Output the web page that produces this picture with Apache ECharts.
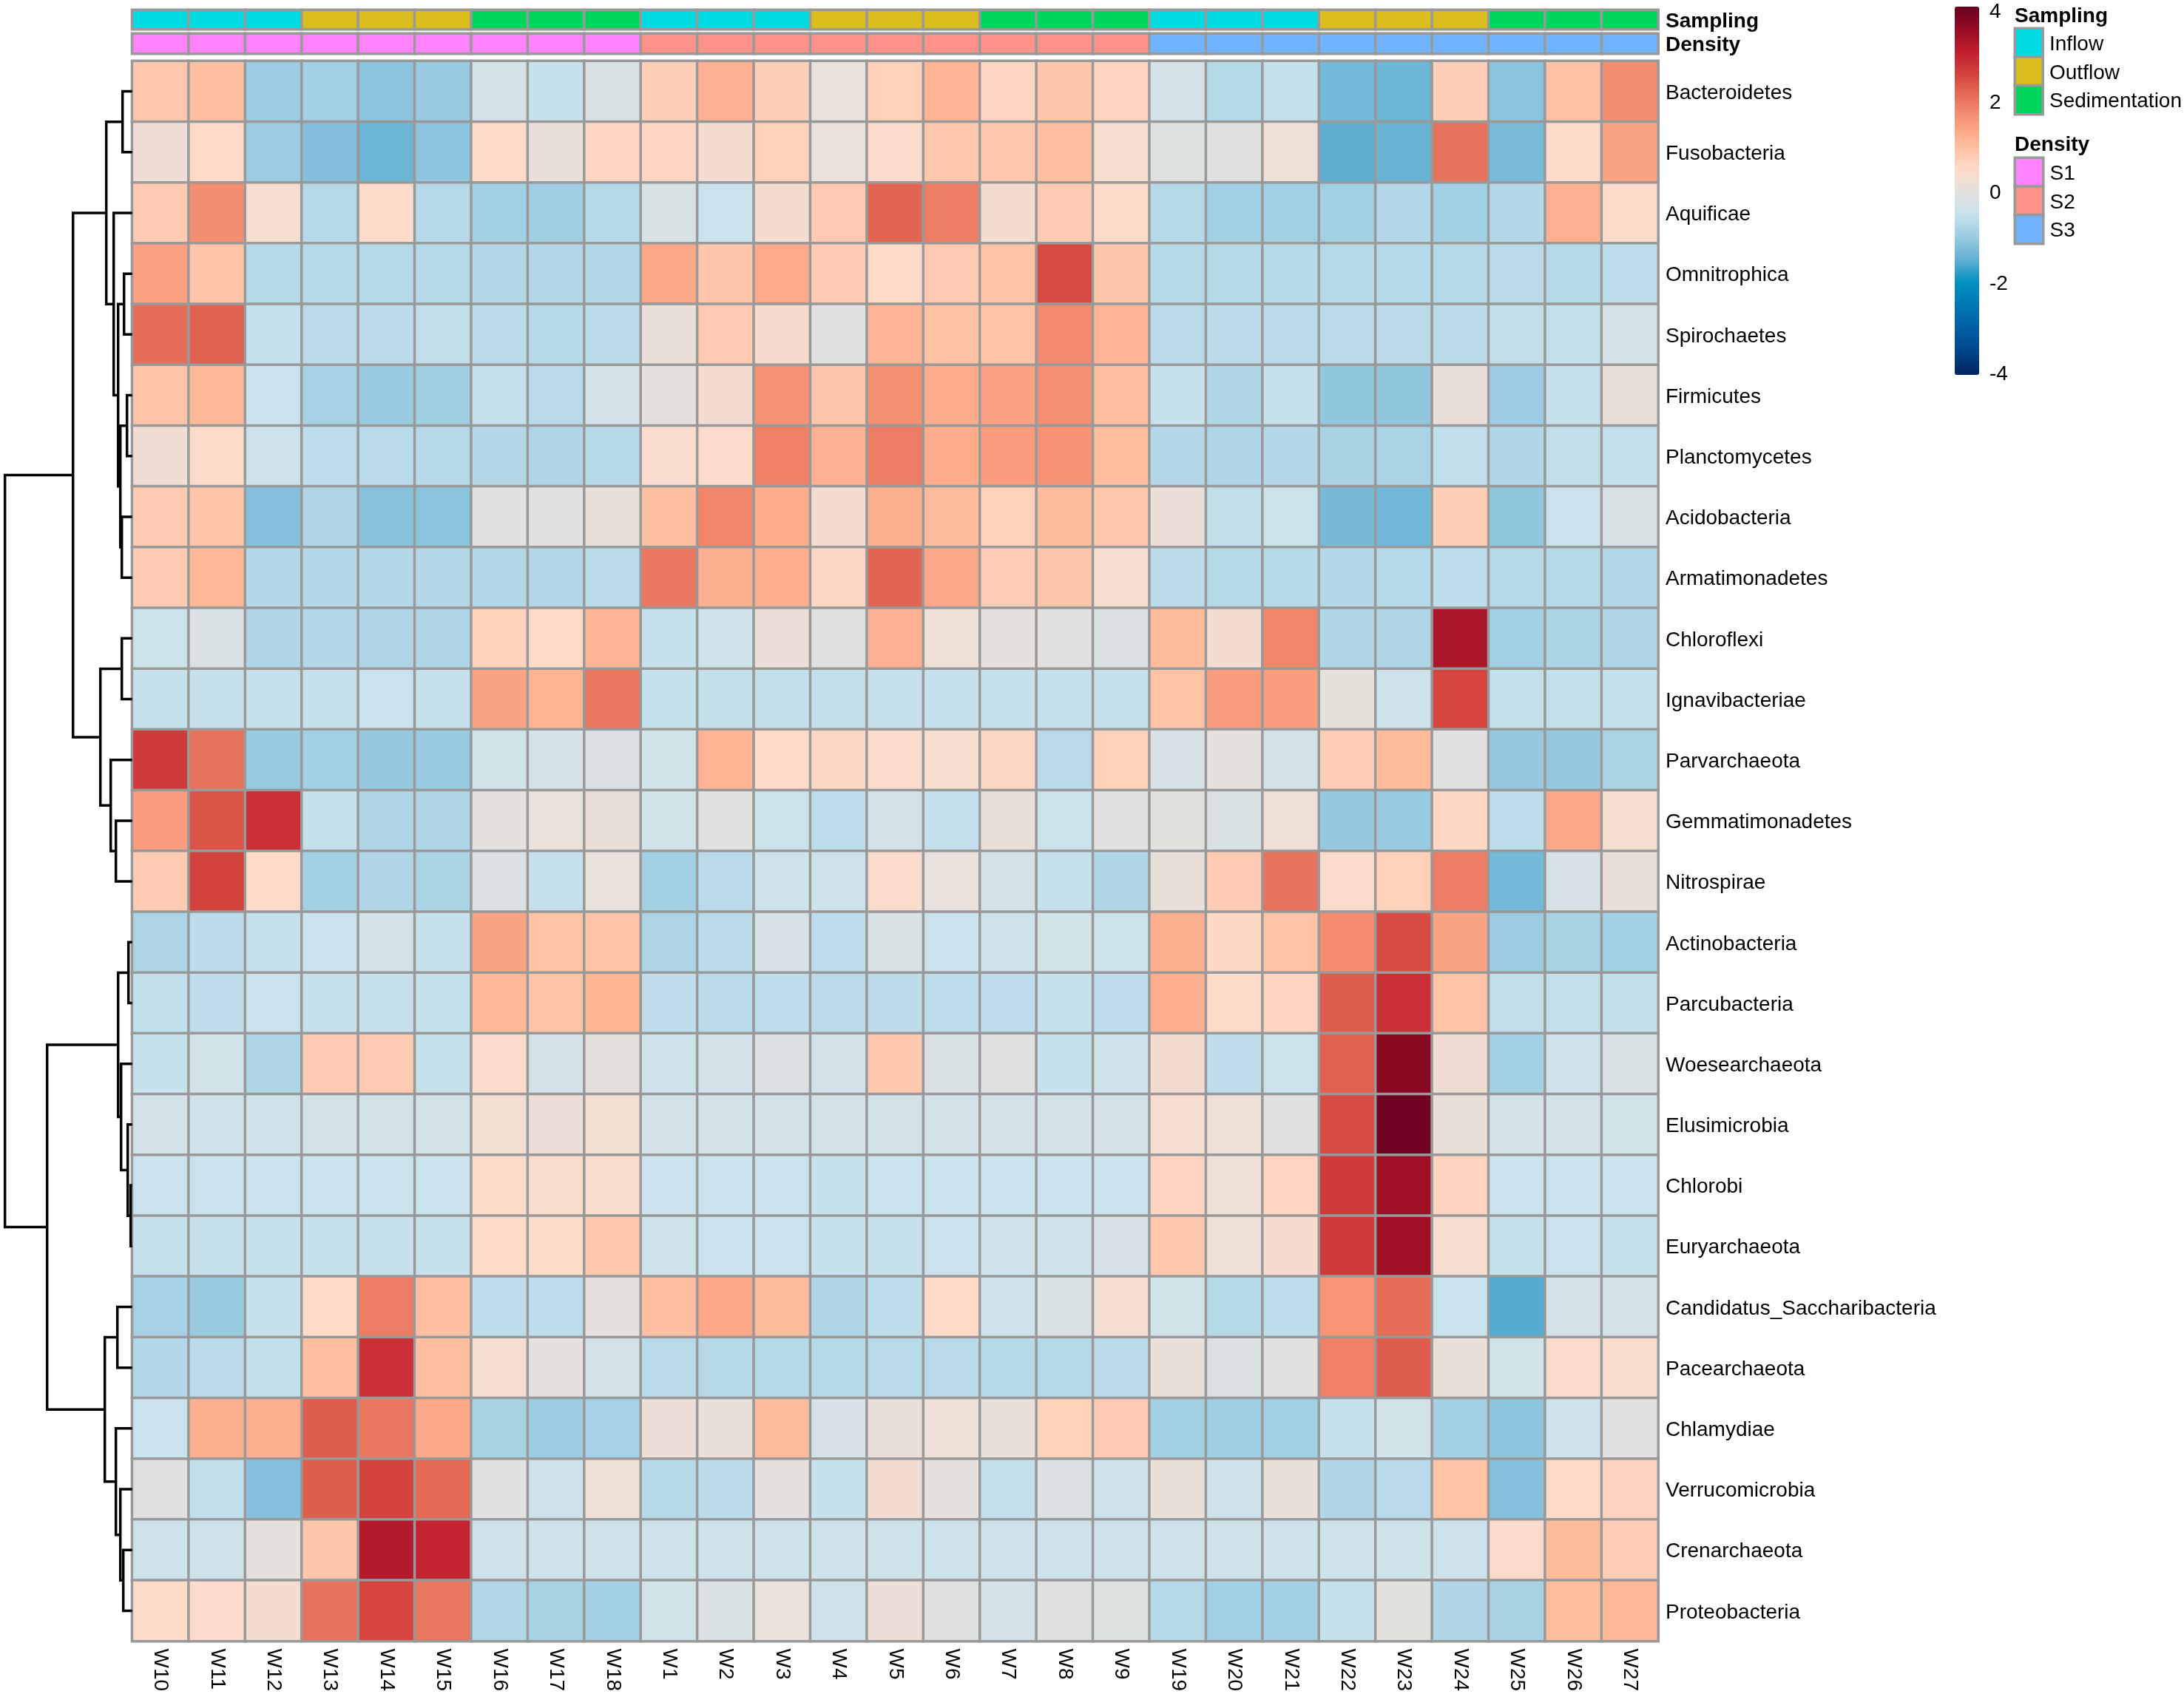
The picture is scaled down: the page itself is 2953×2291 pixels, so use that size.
<!DOCTYPE html>
<html>
<head>
<meta charset="utf-8">
<title>Phyla heatmap</title>
<script src="https://cdn.jsdelivr.net/npm/echarts@6/dist/echarts.min.js"></script>
<style>
	html, body { margin: 0; padding: 0; background: #fff; }
	#main { width: 2953px; height: 2291px; }
</style>
</head>
<body>
<div id="main"></div>
<script type="text/javascript">
var columns = ['W10','W11','W12','W13','W14','W15','W16','W17','W18','W1','W2','W3','W4','W5','W6','W7','W8','W9','W19','W20','W21','W22','W23','W24','W25','W26','W27'];
var phyla = ['Bacteroidetes','Fusobacteria','Aquificae','Omnitrophica','Spirochaetes','Firmicutes','Planctomycetes','Acidobacteria','Armatimonadetes','Chloroflexi','Ignavibacteriae','Parvarchaeota','Gemmatimonadetes','Nitrospirae','Actinobacteria','Parcubacteria','Woesearchaeota','Elusimicrobia','Chlorobi','Euryarchaeota','Candidatus_Saccharibacteria','Pacearchaeota','Chlamydiae','Verrucomicrobia','Crenarchaeota','Proteobacteria'];

// one line per phylum, same order as columns
var abundance = [
	[.85,1,-1,-.93,-1.15,-1.03,-.33,-.5,-.2,.72,1.2,.72,.05,.68,1.15,.58,.87,.62,-.3,-.7,-.55,-1.35,-1.42,.72,-1.15,.95,1.7],
	[.2,.52,-1,-1.23,-1.42,-1.12,.5,.1,.6,.6,.27,.68,.05,.45,.82,.85,1,.32,-.13,-.1,.17,-1.52,-1.45,2.05,-1.3,.47,1.4],
	[.78,1.7,.3,-.7,.47,-.7,-.93,-.96,-.7,-.25,-.45,.28,.8,2.2,1.9,.28,.78,.47,-.7,-.93,-.93,-.93,-.72,-.93,-.72,1.2,.47],
	[1.45,.9,-.7,-.7,-.7,-.7,-.72,-.72,-.72,1.35,.87,1.3,.77,.5,.8,.92,2.5,.87,-.7,-.7,-.7,-.7,-.7,-.7,-.65,-.7,-.62],
	[2.1,2.25,-.55,-.67,-.63,-.58,-.67,-.7,-.67,.1,.8,.35,-.08,1.15,.95,.9,1.75,1.15,-.67,-.65,-.67,-.67,-.65,-.65,-.58,-.55,-.28],
	[.9,1.12,-.45,-.88,-1.02,-.94,-.55,-.68,-.33,-.02,.27,1.65,.87,1.68,1.28,1.42,1.68,1,-.5,-.78,-.53,-1.08,-1.08,.1,-1,-.52,.08],
	[.22,.47,-.42,-.62,-.68,-.7,-.73,-.78,-.7,.4,.43,1.88,1.2,1.9,1.28,1.5,1.62,1.02,-.72,-.78,-.72,-.85,-.84,-.58,-.76,-.58,-.55],
	[.77,.9,-1.22,-.78,-1.18,-1.15,-.08,-.08,.08,.97,1.8,1.28,.28,1.22,1.05,.68,1.05,.85,.13,-.58,-.44,-1.32,-1.38,.73,-1.1,-.47,-.25],
	[.77,1.1,-.73,-.72,-.73,-.74,-.74,-.74,-.65,1.97,1.22,1.25,.57,2.2,1.35,.75,.87,.33,-.63,-.7,-.7,-.72,-.7,-.62,-.7,-.7,-.74],
	[-.44,-.2,-.76,-.74,-.76,-.78,.67,.53,1.15,-.52,-.4,.13,-.1,1.2,.17,.02,-.05,-.17,1.05,.28,1.8,-.76,-.77,3.35,-.93,-.82,-.76],
	[-.52,-.53,-.54,-.52,-.49,-.52,1.4,1.18,2,-.53,-.57,-.56,-.57,-.53,-.52,-.53,-.54,-.54,.92,1.5,1.5,.03,-.42,2.55,-.55,-.55,-.55],
	[2.7,2.05,-1.03,-.93,-1.05,-1.03,-.36,-.28,-.18,-.36,1.18,.5,.57,.45,.32,.57,-.67,.68,-.23,0,-.32,.75,1.05,-.05,-1.05,-1.05,-.84],
	[1.5,2.4,2.85,-.55,-.78,-.78,-.02,.05,.12,-.36,-.08,-.44,-.62,-.3,-.55,.08,-.44,-.08,-.03,-.2,.17,-1.05,-1.03,.55,-.62,1.35,.33],
	[.77,2.6,.5,-.9,-.76,-.82,-.18,-.52,.05,-.9,-.68,-.4,-.42,.43,.05,-.3,-.52,-.78,.08,.78,2.05,.42,.68,1.9,-1.35,-.27,.1],
	[-.8,-.63,-.53,-.47,-.33,-.5,1.4,.92,.9,-.8,-.68,-.27,-.62,-.2,-.45,-.43,-.35,-.44,1.22,.55,.9,1.72,2.5,1.4,-1,-.85,-.93],
	[-.58,-.6,-.47,-.52,-.53,-.53,1.12,.9,1.18,-.6,-.67,-.62,-.65,-.63,-.62,-.6,-.53,-.6,1.25,.47,.62,2.3,2.85,.92,-.58,-.55,-.56],
	[-.5,-.35,-.8,.78,.8,-.53,.42,-.33,0,-.4,-.33,-.17,-.33,.82,-.2,-.07,-.5,-.4,.27,-.6,-.44,2.25,3.72,.22,-.9,-.42,-.2],
	[-.33,-.37,-.37,-.34,-.33,-.34,.25,.15,.25,-.34,-.34,-.34,-.34,-.34,-.34,-.34,-.34,-.34,.33,.17,-.1,2.5,4,.1,-.34,-.34,-.36],
	[-.45,-.45,-.47,-.48,-.45,-.47,.48,.4,.38,-.45,-.46,-.47,-.5,-.48,-.47,-.48,-.48,-.47,.62,.17,.6,2.7,3.5,.65,-.45,-.45,-.48],
	[-.52,-.53,-.52,-.53,-.54,-.52,.5,.46,.85,-.4,-.45,-.48,-.53,-.52,-.45,-.4,-.4,-.27,.85,.17,.35,2.72,3.5,.33,-.52,-.45,-.52],
	[-.88,-1.03,-.53,.5,1.9,.97,-.62,-.62,-.02,.97,1.33,1.05,-.78,-.62,.5,-.4,-.2,.3,-.35,-.7,-.62,1.6,2.1,-.47,-1.58,-.32,-.33],
	[-.73,-.65,-.56,.97,2.85,.97,.32,-.02,-.32,-.67,-.7,-.7,-.7,-.68,-.68,-.7,-.7,-.63,.1,-.18,-.07,1.88,2.3,.1,-.36,.45,.38],
	[-.48,1.22,1.22,2.3,2,1.33,-.87,-1,-.88,.15,.12,1.03,-.23,.12,.17,.12,.67,.8,-.9,-.95,-.93,-.52,-.36,-.9,-1.12,-.42,-.05],
	[-.1,-.58,-1.2,2.27,2.6,2.15,-.07,-.37,.17,-.7,-.66,-.02,-.5,.27,.02,-.54,-.17,-.42,.12,-.42,.1,-.76,-.68,.93,-1.2,.52,.65],
	[-.42,-.4,.02,.87,3.22,3.02,-.4,-.4,-.4,-.4,-.4,-.42,-.4,-.4,-.42,-.42,-.42,-.42,-.4,-.38,-.4,-.4,-.4,-.42,.43,1.05,.75],
	[.47,.42,.27,2.05,2.55,1.98,-.75,-.87,-.9,-.36,-.2,.05,-.42,.15,-.1,-.33,-.1,-.13,-.7,-.93,-.9,-.52,-.03,-.76,-.87,1.02,1.12]
];

var samplingLevels = ['Inflow','Outflow','Sedimentation'];
var samplingColors = ['#00dbe2','#dbbd1e','#00d55e'];
var samplingOfColumn = [0,0,0,1,1,1,2,2,2,0,0,0,1,1,1,2,2,2,0,0,0,1,1,1,2,2,2];
var densityLevels = ['S1','S2','S3'];
var densityColors = ['#ff84fb','#fd9288','#72b3ff'];
var densityOfColumn = [0,0,0,0,0,0,0,0,0,1,1,1,1,1,1,1,1,1,2,2,2,2,2,2,2,2,2];

// row tree, like hclust: negative = phylum number, positive = earlier merge number
var rowMerges = [[-19,-20],[-18,1],[-15,-16],[-6,-7],[-17,2],[3,5],[-25,-26],[-24,7],[-8,-9],[4,9],[-4,-5],[11,10],[-3,12],[-1,-2],[14,13],[-10,-11],[-13,-14],[-12,17],[16,18],[15,19],[-21,-22],[-23,8],[21,22],[6,23],[20,24]];
var rowHeights = [2,6,5,7,15,19,12,16,14,16,11,19,25,13,35,14,22,29,43,80,20,22,37,115,172];

var colorStops = ['#00235f','#004488','#005fa6','#0076b4','#0090bf','#62b0d3','#9bcce1','#c9e2ed','#e6e1dd','#ffdac8','#ffbd9d','#fa9a7b','#e8735c','#d4463f','#c2202f','#970d24','#670020'];
var colorMin = -4.05, colorMax = 4.08;
var colorTicks = [-4, 4, 2];

var FONT = '"Liberation Sans", Arial, sans-serif';
var GRID_LEFT = 178.7, GRID_W = 2063.3, GRID_TOP = 82.5, GRID_H = 2137;
var BORDER = { borderColor: '#999999', borderWidth: 3.5 };

function heatData(){
	var out = [];
	for (var r = 0; r < phyla.length; r++){
		for (var c = 0; c < columns.length; c++){
			out.push([c, r, abundance[r][c]]);
		}
	}
	return out;
}
function annotationData(levelOfColumn, colors){
	return levelOfColumn.map(function(level, c){
		return { value: [c, 0, level], itemStyle: { color: colors[level], borderColor: BORDER.borderColor, borderWidth: BORDER.borderWidth } };
	});
}
function legendData(colors){
	return colors.map(function(color, i){
		return { value: [0, i, i], itemStyle: { color: color, borderColor: BORDER.borderColor, borderWidth: BORDER.borderWidth } };
	});
}
// each row: [left height, left pos, right height, right pos, merge height]
function treeSegments(){
	var nodes = [], out = [];
	function node(ref){
		if (ref < 0) return { h: 0, y: -ref - 0.5 };
		return nodes[ref - 1];
	}
	rowMerges.forEach(function(m, i){
		var a = node(m[0]), b = node(m[1]);
		out.push([a.h, a.y, b.h, b.y, rowHeights[i]]);
		nodes.push({ h: rowHeights[i], y: (a.y + b.y) / 2 });
	});
	return out;
}
function hiddenValue(idx, min, max, inverse){
	return { type: 'value', gridIndex: idx, min: min, max: max, inverse: !!inverse, show: false };
}
function hiddenCategory(idx, data){
	return { type: 'category', gridIndex: idx, data: data, show: false };
}
// rich token so the label can sit a little below the row centre
function nudgedLabel(margin, bold){
	var weight = bold ? 'bold' : 'normal';
	return {
		show: true, margin: margin, color: '#000', fontFamily: FONT, fontSize: 28, fontWeight: weight,
		formatter: function(v){ return '{t|' + v + '}'; },
		rich: { t: { color: '#000', fontFamily: FONT, fontSize: 28, fontWeight: weight, padding: [5, 0, 0, 0] } }
	};
}
function labelAxis(idx, data, bold, margin){
	var label = nudgedLabel(margin, bold);
	label.interval = 0;
	return {
		type: 'category', gridIndex: idx, data: data, position: 'right', inverse: true,
		axisLine: { show: false }, axisTick: { show: false }, splitLine: { show: false },
		axisLabel: label
	};
}

var option = {
	backgroundColor: '#ffffff',
	animation: false,
	grid: [
		{ left: GRID_LEFT, width: GRID_W, top: GRID_TOP, height: GRID_H },
		{ left: GRID_LEFT, width: GRID_W, top: 13.5, height: 26 },
		{ left: GRID_LEFT, width: GRID_W, top: 45.5, height: 27 },
		{ left: 0.7, width: 178, top: GRID_TOP, height: GRID_H },
		{ left: 2724.5, width: 38, top: 38.5, height: 116 },
		{ left: 2724.5, width: 38, top: 213.5, height: 116 },
		{ left: 2643, width: 33, top: 14, height: 490 }
	],
	xAxis: [
		{
			type: 'category', gridIndex: 0, data: columns, position: 'bottom',
			axisLine: { show: false }, axisTick: { show: false }, splitLine: { show: false },
			axisLabel: { interval: 0, rotate: -90, margin: 10, color: '#000', fontFamily: FONT, fontSize: 28 }
		},
		hiddenCategory(1, columns),
		hiddenCategory(2, columns),
		hiddenValue(3, 0, 178, true),
		hiddenCategory(4, ['x']),
		hiddenCategory(5, ['x']),
		hiddenValue(6, 0, 1)
	],
	yAxis: [
		labelAxis(0, phyla, false, 10),
		labelAxis(1, ['Sampling'], true, 10),
		labelAxis(2, ['Density'], true, 10),
		hiddenValue(3, 0, phyla.length, true),
		labelAxis(4, samplingLevels, false, 9),
		labelAxis(5, densityLevels, false, 9),
		{
			type: 'value', gridIndex: 6, min: colorTicks[0], max: colorTicks[1], interval: colorTicks[2], position: 'right',
			axisLine: { show: false }, axisTick: { show: false }, splitLine: { show: false },
			axisLabel: nudgedLabel(14, false)
		}
	],
	visualMap: [{
		type: 'continuous', seriesIndex: 0, min: colorMin, max: colorMax, calculable: false, hoverLink: false,
		left: 2643, top: 9, itemWidth: 33, itemHeight: 498, padding: 0, text: null, showLabel: false,
		inRange: { color: colorStops }
	}],
	graphic: [
		{ type: 'text', x: 2724, y: 22, silent: true, style: { text: 'Sampling', fill: '#000', font: 'bold 28px ' + FONT, verticalAlign: 'middle' } },
		{ type: 'text', x: 2724, y: 196, silent: true, style: { text: 'Density', fill: '#000', font: 'bold 28px ' + FONT, verticalAlign: 'middle' } }
	],
	series: [
		{ type: 'heatmap', xAxisIndex: 0, yAxisIndex: 0, data: heatData(), itemStyle: BORDER, silent: true },
		{ type: 'heatmap', xAxisIndex: 1, yAxisIndex: 1, data: annotationData(samplingOfColumn, samplingColors), silent: true },
		{ type: 'heatmap', xAxisIndex: 2, yAxisIndex: 2, data: annotationData(densityOfColumn, densityColors), silent: true },
		{ type: 'heatmap', xAxisIndex: 4, yAxisIndex: 4, data: legendData(samplingColors), silent: true },
		{ type: 'heatmap', xAxisIndex: 5, yAxisIndex: 5, data: legendData(densityColors), silent: true },
		{
			type: 'custom', xAxisIndex: 3, yAxisIndex: 3, data: treeSegments(), silent: true, clip: false,
			encode: { x: [0, 2, 4], y: [1, 3] },
			renderItem: function(params, api){
				var h = api.value(4);
				var pts = [
					api.coord([api.value(0), api.value(1)]),
					api.coord([h, api.value(1)]),
					api.coord([h, api.value(3)]),
					api.coord([api.value(2), api.value(3)])
				];
				return { type: 'polyline', shape: { points: pts }, style: { stroke: '#000', fill: null, lineWidth: 3.5, lineJoin: 'miter' } };
			}
		}
	]
};

var myChart = echarts.init(document.getElementById('main'));
myChart.setOption(option);
</script>
</body>
</html>
